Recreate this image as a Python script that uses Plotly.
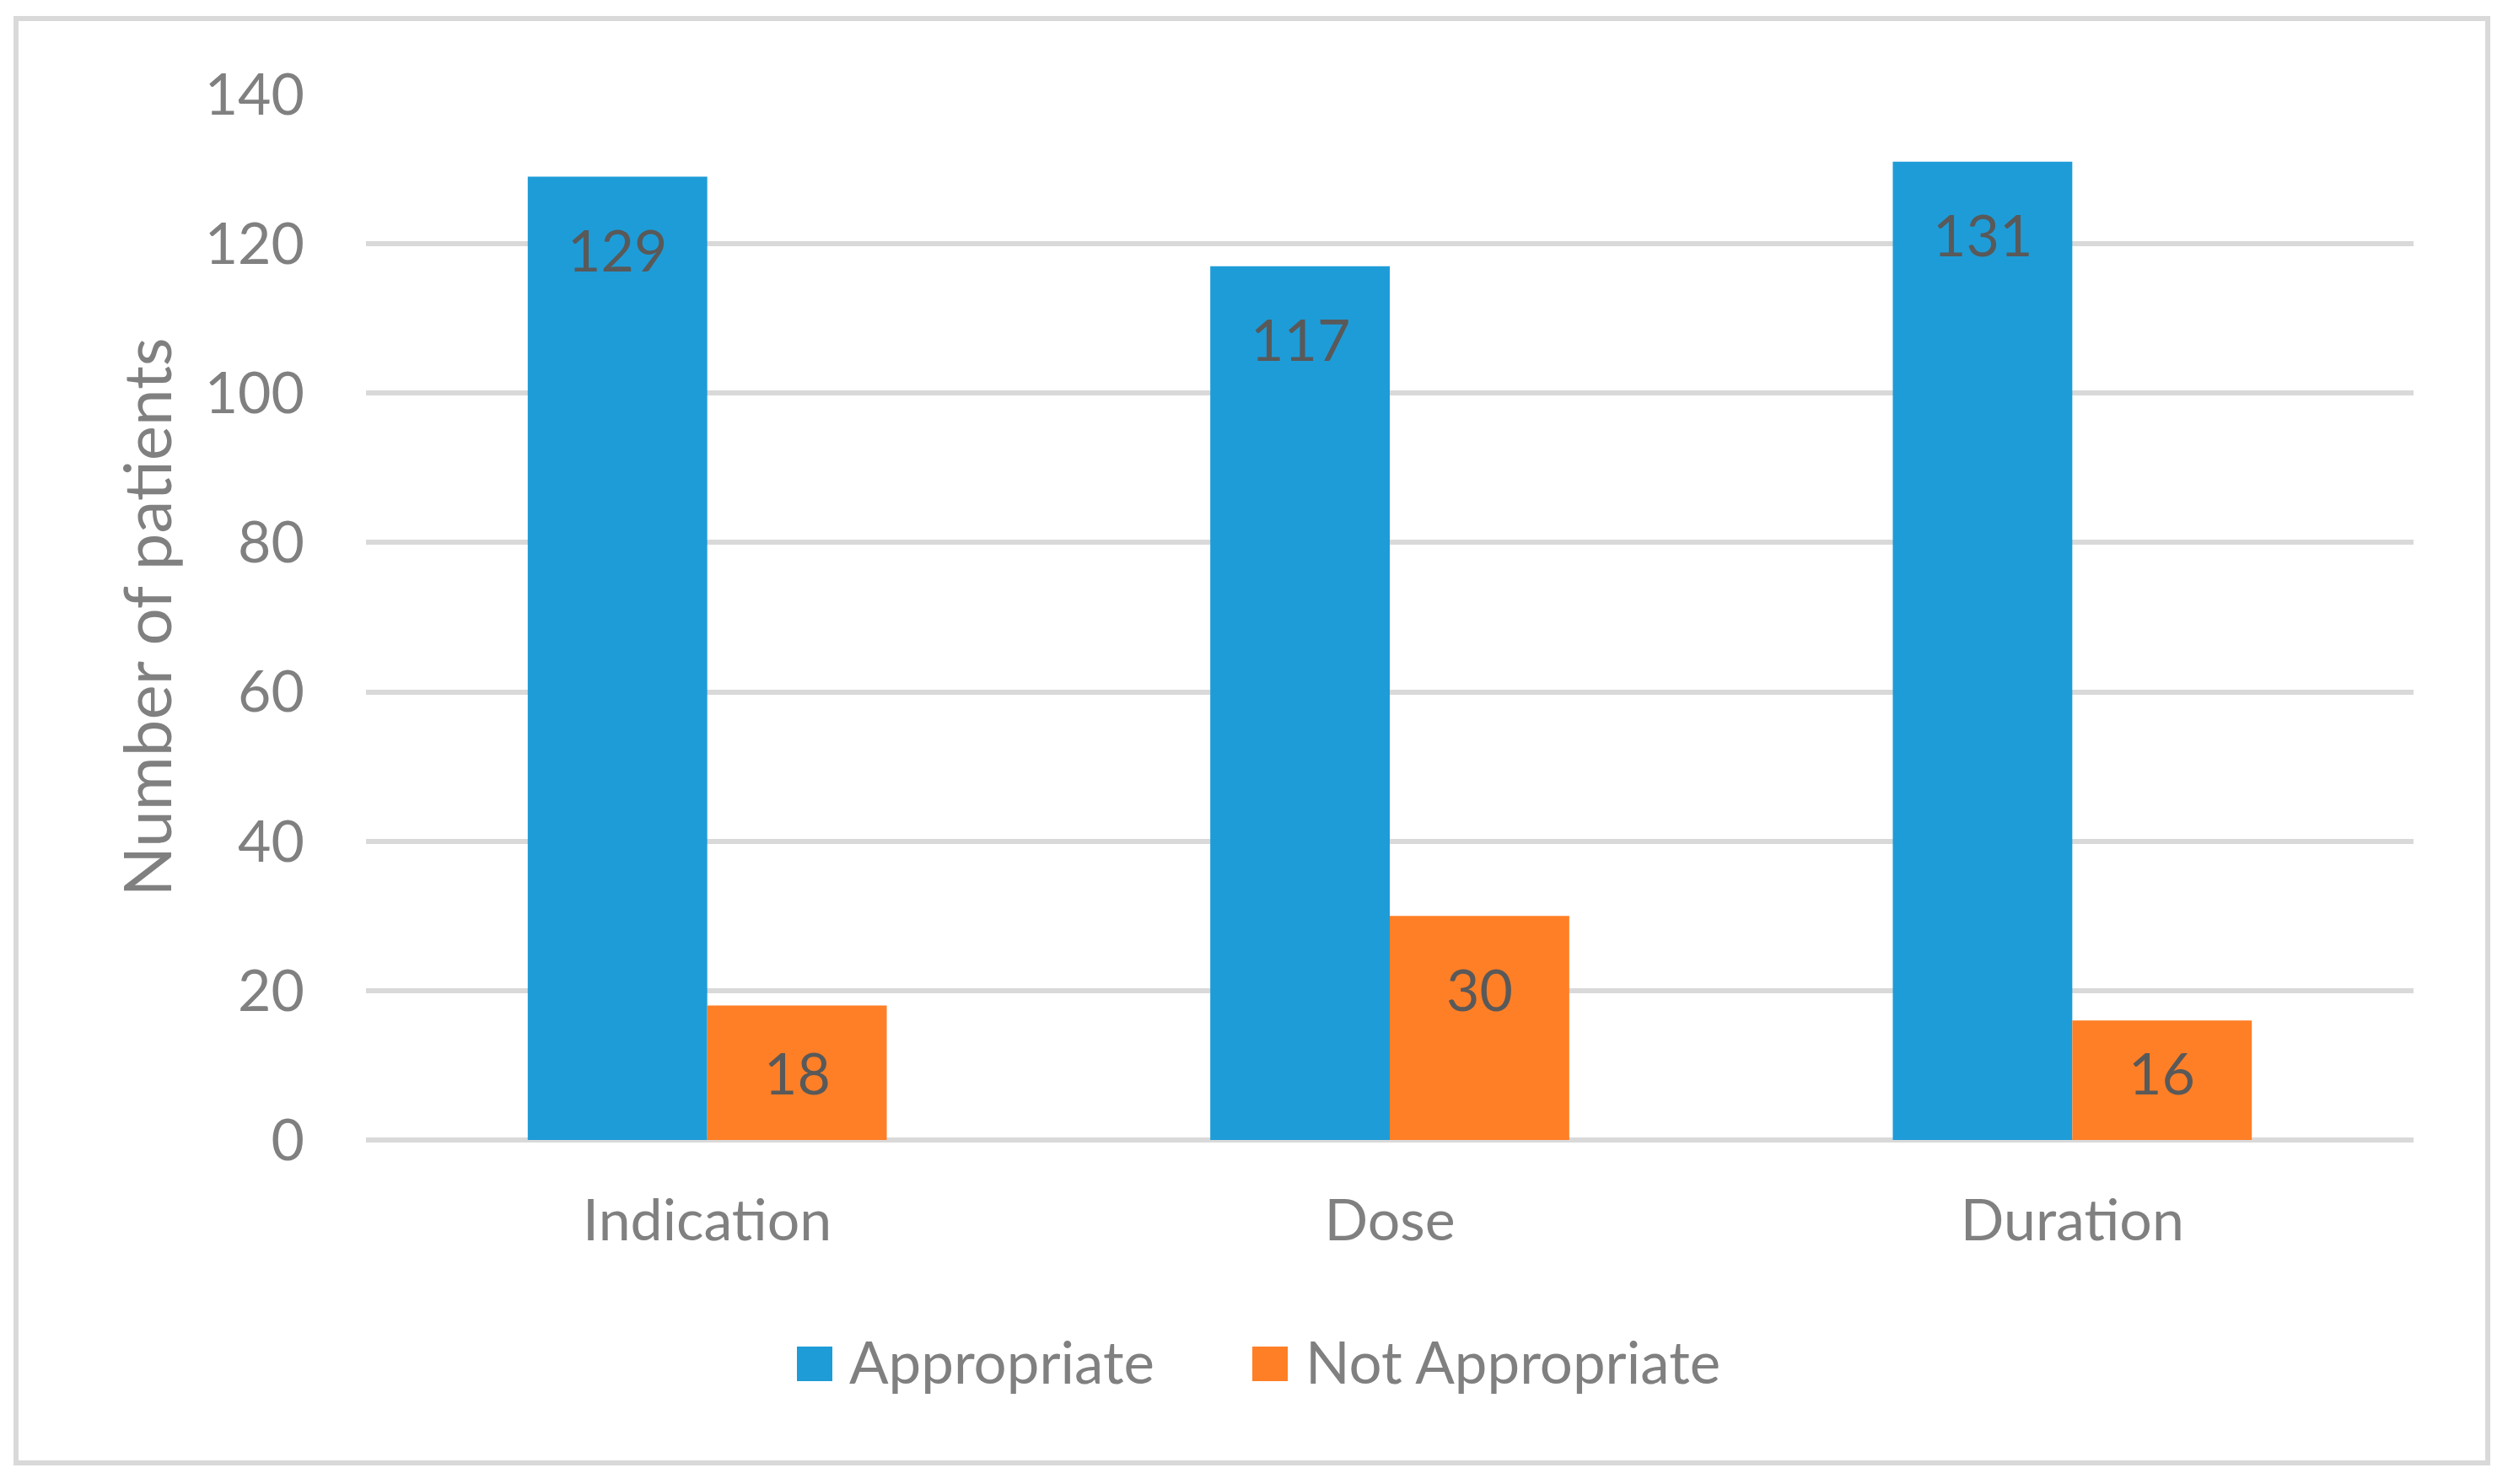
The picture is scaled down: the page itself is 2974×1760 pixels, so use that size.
import plotly.graph_objects as go

# ---- data ----
categories = ["Indication", "Dose", "Duration"]
series_names = ["Appropriate", "Not Appropriate"]
appropriate = [129, 117, 131]
not_appropriate = [18, 30, 16]
y_ticks = [0, 20, 40, 60, 80, 100, 120, 140]
y_title = "Number of patients"

# ---- style ----
W, H = 2974, 1760
OFF = 8  # page body margin
# target screen-pixel plot area
SL, SR, ST, SB = 434, 2862, 112, 1352
ML, MT = SL - OFF, ST - OFF
MR, MB = W - (SR - OFF), H - (SB - OFF)
PW, PH = SR - SL, SB - ST
colors = ["#1E9CD8", "#FF7F27"]
FONT = "Lato"
FS = 68
tick_color = "#808080"
label_color = "#595959"
grid_color = "#D9D9D9"
bargap = 0.474
ymax = 140

def px_x(X):
    return (X - SL) / PW

def px_y(Y):
    return (SB - Y) / PH

fig = go.Figure()
values = [appropriate, not_appropriate]
for name, vals, col in zip(series_names, values, colors):
    fig.add_trace(go.Bar(x=categories, y=vals, name=name, marker=dict(color=col, line=dict(width=0)),
                         showlegend=False))

# data labels (inside end)
bar_px = PW / len(categories) * (1 - bargap) / 2
unit_px = PH / ymax
annotations = []
for i, vals in enumerate(values):
    shift = (i - 0.5) * bar_px
    for c, v in zip(categories, vals):
        yc = max(v - 86 / unit_px, 81 / unit_px)
        annotations.append(dict(x=c, y=yc, xref="x", yref="y", text=str(v), showarrow=False,
                                xshift=shift, xanchor="center", yanchor="middle",
                                font=dict(family=FONT, size=FS, color=label_color)))

# legend (drawn manually so the swatches match the original size)
legend_items = [(945, 1005), (1485, 1546)]
shapes = []
for (sx, tx), name, col in zip(legend_items, series_names, colors):
    shapes.append(dict(type="rect", xref="paper", yref="paper",
                       x0=px_x(sx), x1=px_x(sx + 42), y0=px_y(1638), y1=px_y(1597),
                       fillcolor=col, line=dict(width=0)))
    annotations.append(dict(x=px_x(tx), y=px_y(1614), xref="paper", yref="paper", text=name,
                            showarrow=False, xanchor="left", yanchor="middle",
                            font=dict(family=FONT, size=FS + 1, color=tick_color)))

# outer border
shapes.append(dict(type="rect", xref="paper", yref="paper",
                   x0=px_x(19), x1=px_x(2950), y0=px_y(1735), y1=px_y(22),
                   line=dict(color=grid_color, width=6), fillcolor="rgba(0,0,0,0)", layer="below"))

fig.update_layout(
    width=W, height=H,
    margin=dict(l=ML, r=MR, t=MT, b=MB),
    paper_bgcolor="white", plot_bgcolor="white",
    barmode="group", bargap=bargap, bargroupgap=0,
    showlegend=False,
    font=dict(family=FONT, color=tick_color),
    annotations=annotations,
    shapes=shapes,
)
fig.update_xaxes(showline=False, showgrid=False, zeroline=False, ticks="",
                 tickfont=dict(family=FONT, size=FS, color=tick_color),
                 ticklabelstandoff=50)
fig.update_yaxes(range=[0, ymax], tickvals=y_ticks, showgrid=True, gridcolor=grid_color, gridwidth=6,
                 zeroline=True, zerolinecolor=grid_color, zerolinewidth=6, showline=False, ticks="",
                 tickfont=dict(family=FONT, size=FS, color=tick_color),
                 ticklabelstandoff=72,
                 title=dict(text=y_title, font=dict(family=FONT, size=78, color=tick_color), standoff=13),
                 automargin=False)

fig.write_html("out.html")
